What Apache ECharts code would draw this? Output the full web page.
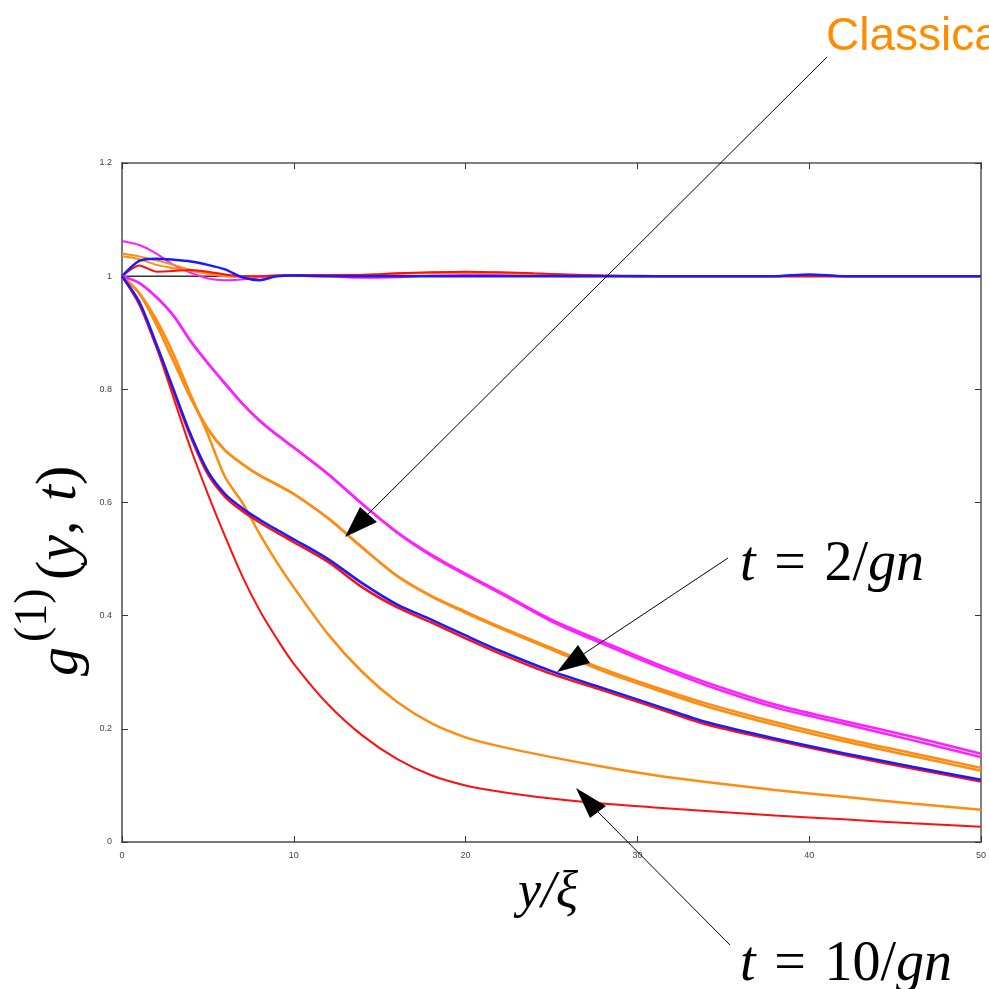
<!DOCTYPE html>
<html>
<head>
<meta charset="utf-8">
<script src="https://cdn.jsdelivr.net/npm/echarts@6/dist/echarts.min.js"></script>
<style>
  html, body { margin: 0; padding: 0; background: #fff; }
  #chart { width: 989px; height: 989px; }
</style>
</head>
<body>
<div id="chart"></div>
<script>
'use strict';
// x grids (y / xi)
var xLow = [0, 1, 2, 3, 4, 5, 6, 7, 8, 9, 10, 12, 14, 16, 18, 20, 22, 25, 28, 31, 34, 38, 42, 46, 50];
var xUp = [0, 1, 2, 3, 4, 5, 6, 7, 8, 9, 10, 12, 14, 16, 18, 20, 22, 24, 26, 28, 30, 32, 35, 38, 40, 42, 45, 50];

// decaying curves
var redLong = [1, 0.95, 0.875, 0.785, 0.695, 0.615, 0.54, 0.47, 0.41, 0.36, 0.315, 0.243, 0.188, 0.147, 0.118, 0.1, 0.089, 0.077, 0.068, 0.061, 0.055, 0.047, 0.040, 0.033, 0.027];
var orangeA = [1, 0.97, 0.923, 0.862, 0.79, 0.72, 0.645, 0.60, 0.545, 0.495, 0.45, 0.367, 0.30, 0.248, 0.21, 0.185, 0.169, 0.15, 0.133, 0.118, 0.106, 0.092, 0.080, 0.068, 0.057];
var orangeB = [1, 0.97, 0.915, 0.85, 0.785, 0.73, 0.692, 0.668, 0.648, 0.632, 0.615, 0.572, 0.52, 0.47, 0.434, 0.405, 0.378, 0.34, 0.302, 0.27, 0.24, 0.207, 0.178, 0.152, 0.126];
var orangeB2 = [1, 0.97, 0.915, 0.85, 0.785, 0.73, 0.692, 0.668, 0.648, 0.632, 0.615, 0.572, 0.52, 0.471, 0.435, 0.407, 0.38, 0.343, 0.306, 0.274, 0.245, 0.212, 0.183, 0.157, 0.131];
var magenta = [1, 0.988, 0.963, 0.93, 0.885, 0.846, 0.81, 0.775, 0.745, 0.72, 0.697, 0.65, 0.597, 0.547, 0.506, 0.472, 0.44, 0.39, 0.35, 0.312, 0.277, 0.238, 0.209, 0.18, 0.15];
var magenta2 = [1, 0.988, 0.963, 0.93, 0.885, 0.846, 0.81, 0.775, 0.745, 0.72, 0.697, 0.65, 0.597, 0.548, 0.508, 0.474, 0.442, 0.393, 0.354, 0.316, 0.282, 0.243, 0.214, 0.186, 0.156];
var redMid = [1, 0.952, 0.876, 0.796, 0.716, 0.65, 0.61, 0.585, 0.565, 0.547, 0.53, 0.495, 0.45, 0.415, 0.388, 0.36, 0.333, 0.297, 0.268, 0.238, 0.208, 0.18, 0.154, 0.13, 0.107];
var blueMid = [1, 0.955, 0.88, 0.80, 0.72, 0.655, 0.615, 0.59, 0.57, 0.552, 0.535, 0.50, 0.457, 0.42, 0.393, 0.365, 0.338, 0.302, 0.272, 0.242, 0.212, 0.183, 0.157, 0.133, 0.11];

// curves staying near 1
var magentaUp = [1.062, 1.055, 1.04, 1.02, 1.006, 0.996, 0.993, 0.994, 0.998, 1.0, 1.001, 1.0, 0.997, 0.998, 1.001, 1.002, 1.002, 1.001, 1.0, 1.0, 1.0, 1.0, 1.0, 1.0, 1.0, 1.0, 1.0, 1.0];
var orangeUp1 = [1.04, 1.035, 1.028, 1.02, 1.011, 1.005, 1.001, 0.999, 1.0, 1.001, 1.001, 1.002, 1.003, 1.005, 1.006, 1.006, 1.005, 1.003, 1.002, 1.001, 1.0, 1.0, 1.0, 1.0, 1.0, 1.0, 1.0, 1.0];
var orangeUp2 = [1.035, 1.03, 1.02, 1.014, 1.009, 1.004, 1.0, 0.999, 1.0, 1.001, 1.002, 1.001, 1.002, 1.004, 1.005, 1.006, 1.006, 1.004, 1.002, 1.001, 1.001, 1.0, 1.0, 1.0, 1.0, 1.0, 1.0, 1.0];
var redUp = [1.0, 1.019, 1.008, 1.009, 1.011, 1.008, 1.003, 1.0, 1.0, 1.001, 1.002, 1.002, 1.002, 1.005, 1.007, 1.008, 1.007, 1.005, 1.003, 1.001, 1.0, 1.0, 1.0, 1.0, 1.0, 1.0, 1.0, 1.0];
var blueUp = [1.0, 1.027, 1.031, 1.029, 1.026, 1.02, 1.012, 0.998, 0.993, 1.0, 1.001, 1.0, 1.0, 1.0, 1.0, 1.0, 1.0, 1.0, 1.0, 1.0, 1.0, 1.0, 1.0, 1.0, 1.003, 1.0, 1.0, 1.0];

var refX = [0, 50];
var refY = [1, 1];

var RED = '#ff1010', ORANGE = '#ff8c10', MAGENTA = '#ff20ff', BLUE = '#1a1aff';

function pairs(xs, ys) {
	return xs.map(function (x, i) { return [x, ys[i]]; });
}

function curve(xs, ys, color, width, smooth) {
	return {
		type: 'line',
		data: pairs(xs, ys),
		symbol: 'none',
		smooth: smooth || false,
		lineStyle: { color: color, width: width },
		silent: true
	};
}

function arrow(x1, y1, x2, y2, head) {
	return [{
		type: 'line',
		shape: { x1: x1, y1: y1, x2: x2, y2: y2 },
		style: { stroke: '#000', lineWidth: 1 },
		z: 100
	}, {
		type: 'polygon',
		shape: { points: head },
		style: { fill: '#000' },
		z: 100
	}];
}

var mathFont = '"Liberation Serif", "DejaVu Serif", serif';
var tick = { show: true, inside: true, length: 6, lineStyle: { color: '#333', width: 1 } };

var myChart = echarts.init(document.getElementById('chart'));
var option = {
	animation: false,
	backgroundColor: '#fff',
	grid: { left: 122, right: 7, top: 163, bottom: 147, containLabel: false },
	xAxis: [{
		type: 'value', min: 0, max: 50, interval: 10,
		axisLine: { show: true, onZero: false, lineStyle: { color: '#777', width: 2 } },
		axisTick: tick,
		axisLabel: { fontSize: 9, color: '#444', margin: 9, fontFamily: 'Liberation Sans' },
		splitLine: { show: false }
	}, {
		type: 'value', min: 0, max: 50, interval: 10, position: 'top',
		axisLine: { show: true, onZero: false, lineStyle: { color: '#555', width: 1.5 } },
		axisTick: tick,
		axisLabel: { show: false },
		splitLine: { show: false }
	}],
	yAxis: [{
		type: 'value', min: 0, max: 1.2, interval: 0.2,
		axisLine: { show: true, onZero: false, lineStyle: { color: '#777', width: 2 } },
		axisTick: tick,
		axisLabel: { fontSize: 9, color: '#444', margin: 10, fontFamily: 'Liberation Sans' },
		splitLine: { show: false }
	}, {
		type: 'value', min: 0, max: 1.2, interval: 0.2, position: 'right',
		axisLine: { show: true, onZero: false, lineStyle: { color: '#555', width: 1.5 } },
		axisTick: tick,
		axisLabel: { show: false },
		splitLine: { show: false }
	}],
	series: [
		curve(refX, refY, '#333', 1.5),
		curve(xUp, magentaUp, MAGENTA, 2, 0.25),
		curve(xUp, orangeUp1, ORANGE, 2, 0.25),
		curve(xUp, orangeUp2, ORANGE, 2, 0.25),
		curve(xUp, redUp, RED, 2, 0.25),
		curve(xUp, blueUp, BLUE, 2.5, 0.25),
		curve(xLow, redLong, RED, 2, 0.3),
		curve(xLow, orangeA, ORANGE, 2.5, 0.3),
		curve(xLow, orangeB2, ORANGE, 2.5, 0.3),
		curve(xLow, orangeB, ORANGE, 2.5, 0.3),
		curve(xLow, magenta2, MAGENTA, 2.5, 0.3),
		curve(xLow, magenta, MAGENTA, 2.5, 0.3),
		curve(xLow, redMid, RED, 2.5, 0.3),
		curve(xLow, blueMid, BLUE, 2.5, 0.3)
	],
	graphic: [].concat(
		arrow(827, 57, 366, 516, [[345, 537], [360, 507], [377, 522]]),
		arrow(728, 558, 582, 655, [[557, 672], [578, 645], [590, 663]]),
		arrow(730, 945, 597, 811, [[576, 788], [590, 818], [606, 806]]),
		[{
			type: 'text', x: 826, y: 37, z: 100,
			style: { text: 'Classical', font: '46px "Liberation Sans", Arial, sans-serif', fill: '#ff8c00', verticalAlign: 'middle', align: 'left' }
		}, {
			type: 'text', x: 740, y: 565, z: 100,
			style: {
				text: '{i|t}\u2004=\u20042/{i|gn}', font: '56px ' + mathFont, fill: '#000', verticalAlign: 'middle', align: 'left',
				rich: { i: { font: 'italic 56px ' + mathFont } }
			}
		}, {
			type: 'text', x: 740, y: 965, z: 100,
			style: {
				text: '{i|t}\u2004=\u200410/{i|gn}', font: '56px ' + mathFont, fill: '#000', verticalAlign: 'middle', align: 'left',
				rich: { i: { font: 'italic 56px ' + mathFont } }
			}
		}, {
			type: 'text', x: 548, y: 893, z: 100,
			style: { text: 'y/\u03be', font: 'italic 52px ' + mathFont, fill: '#000', verticalAlign: 'middle', align: 'center' }
		}, {
			type: 'group', x: 60, y: 560, rotation: Math.PI / 2, z: 100,
			children: [{
				type: 'text', x: -116, y: 2,
				style: { text: 'g', font: 'italic 58px ' + mathFont, fill: '#000', verticalAlign: 'middle', align: 'left' }
			}, {
				type: 'text', x: -82, y: -26,
				style: { text: '(1)', font: '46px ' + mathFont, fill: '#000', verticalAlign: 'middle', align: 'left' }
			}, {
				type: 'text', x: -20, y: 0,
				style: {
					text: '({i|y},\u2004{i|t})', font: '58px ' + mathFont, fill: '#000', verticalAlign: 'middle', align: 'left',
					rich: { i: { font: 'italic 58px ' + mathFont } }
				}
			}]
		}]
	)
};
myChart.setOption(option);
</script>
</body>
</html>
